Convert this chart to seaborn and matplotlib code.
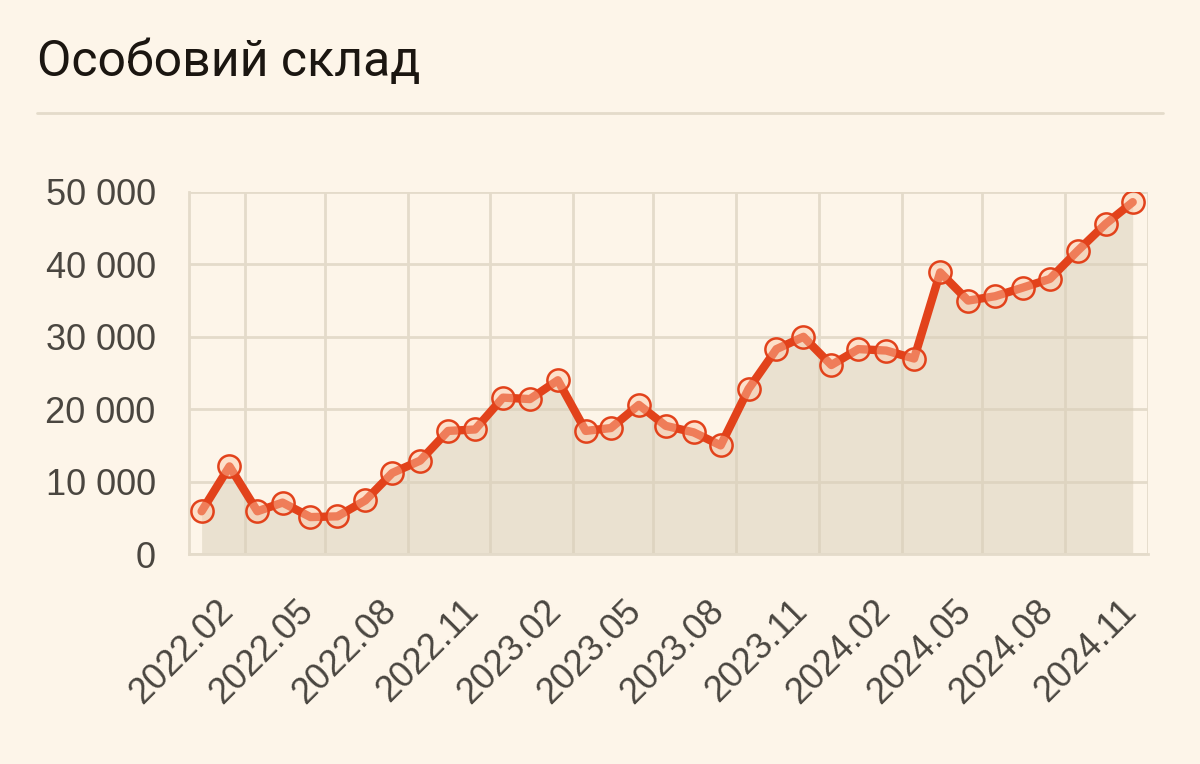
import matplotlib
matplotlib.use("Agg")
import matplotlib.pyplot as plt
import matplotlib.ticker as mticker
import matplotlib.transforms as mtrans
from matplotlib.lines import Line2D
import seaborn as sns
import pandas as pd

# ---- data ----
months = ["2021-12",
          "2022-01", "2022-02", "2022-03", "2022-04", "2022-05", "2022-06",
          "2022-07", "2022-08", "2022-09", "2022-10", "2022-11", "2022-12",
          "2023-01", "2023-02", "2023-03", "2023-04", "2023-05", "2023-06",
          "2023-07", "2023-08", "2023-09", "2023-10", "2023-11", "2023-12",
          "2024-01", "2024-02", "2024-03", "2024-04", "2024-05", "2024-06",
          "2024-07", "2024-08", "2024-09", "2024-10"]
personnel = [5900, 12100, 5900, 7100, 5100, 5200, 7400, 11200, 12900, 17000,
             17200, 21600, 21400, 24000, 17000, 17400, 20600, 17700, 16800, 15000,
             22800, 28300, 30000, 26100, 28300, 28100, 27000, 38900, 35000, 35600,
             36800, 38000, 41900, 45600, 48600]
tick_labels = ["2022.02", "2022.05", "2022.08", "2022.11", "2023.02", "2023.05",
               "2023.08", "2023.11", "2024.02", "2024.05", "2024.08", "2024.11"]
y_ticks = [0, 10000, 20000, 30000, 40000, 50000]
title = "Особовий склад"

# ---- style ----
BG = "#fdf5e9"
GRID = "#e4dbca"
LINE = "#e2421b"
FILL = "#d9cfb8"
TEXT = "#4a4640"

sns.set_theme(style="white")
plt.rcParams["font.family"] = ["Liberation Sans", "DejaVu Sans"]

df = pd.DataFrame({
    "date": pd.to_datetime(months, format="%Y-%m") + pd.Timedelta(days=14),
    "value": personnel,
})

fig = plt.figure(figsize=(12, 7.64), dpi=100, facecolor=BG)
ax = fig.add_axes([189 / 1200, 1 - 554 / 764, (1148 - 189) / 1200, (554 - 192) / 764])
ax.set_facecolor(BG)

ax.fill_between(df["date"], df["value"], 0, color=FILL, alpha=0.5, lw=0, zorder=1)
sns.lineplot(data=df, x="date", y="value", ax=ax, color=LINE, lw=6,
             marker="o", markersize=16, markerfacecolor=(1, 0.78, 0.65, 0.45),
             markeredgecolor=LINE, markeredgewidth=1.8, zorder=3)

tick_dates = pd.to_datetime(tick_labels, format="%Y.%m")
ax.set_xlim(pd.Timestamp("2021-12-01"), pd.Timestamp("2024-11-01"))
ax.set_ylim(0, 50000)
ax.set_xticks(tick_dates)
ax.set_xticklabels(tick_labels, rotation=45, ha="right", va="center",
                   rotation_mode="anchor")
ax.set_yticks(y_ticks)
ax.yaxis.set_major_formatter(mticker.FuncFormatter(
    lambda v, p: f"{int(v):,}".replace(",", " ")))

ax.grid(True, color=GRID, lw=2, zorder=0)
ax.set_axisbelow(True)
for s in ["top", "right"]:
    ax.spines[s].set_visible(False)
for s in ["left", "bottom"]:
    ax.spines[s].set_color(GRID)
    ax.spines[s].set_linewidth(2)
ax.tick_params(axis="both", length=17, width=1.5, color=GRID, labelcolor=TEXT,
               labelsize=26)
ax.tick_params(axis="y", pad=7)
ax.tick_params(axis="x", pad=10)
ax.set_xlabel("")
ax.set_ylabel("")

shift = mtrans.ScaledTranslation(-17 / 100, -14 / 100, fig.dpi_scale_trans)
for lab in ax.get_xticklabels():
    lab.set_transform(lab.get_transform() + shift)

fig.text(37 / 1200, 1 - 62 / 764, title, fontsize=36, family=["Roboto", "DejaVu Sans"],
         color="#1b1611", va="center", ha="left")
fig.add_artist(Line2D([37 / 1200, 1163 / 1200], [1 - 113 / 764, 1 - 113 / 764],
                      transform=fig.transFigure, color=GRID, lw=2))

fig.savefig("out.png", dpi=100, facecolor=BG)
